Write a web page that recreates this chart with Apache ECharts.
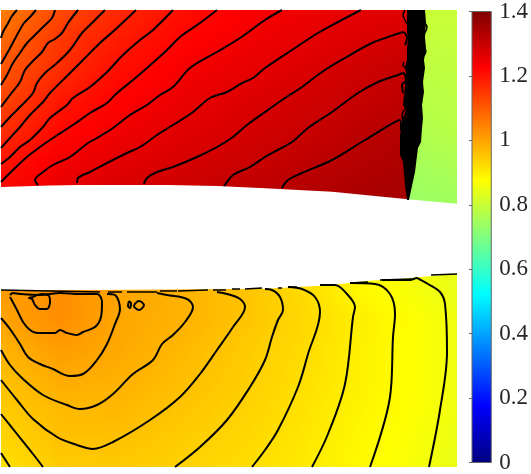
<!DOCTYPE html>
<html>
<head>
<meta charset="utf-8">
<style>html,body{margin:0;padding:0;background:#fff}#app{width:531px;height:474px}</style>
<script src="https://cdn.jsdelivr.net/npm/echarts@6/dist/echarts.min.js"></script>
</head>
<body>
<div id="app"></div>
<script>
// colour scale
var colorMin = 0;
var colorMax = 1.4;
var colorbarTicks = [0, 0.2, 0.4, 0.6, 0.8, 1, 1.2, 1.4];
var jetStops = ['#00007f', '#0000ff', '#007fff', '#00ffff', '#7fff7f', '#ffff00', '#ff7f00', '#ff0000', '#7f0000'];

// field: upper passage, before the shock
var upperX = [1, 60, 120, 180, 240, 300, 360, 420];
var upperY = [10, 40, 70, 100, 130, 160, 200];
var upperValues = [
    [1.05, 1.125, 1.17, 1.204, 1.228, 1.245, 1.26, 1.27],
    [1.08, 1.15, 1.19, 1.22, 1.241, 1.257, 1.274, 1.29],
    [1.105, 1.165, 1.208, 1.236, 1.253, 1.273, 1.292, 1.31],
    [1.13, 1.193, 1.225, 1.25, 1.271, 1.285, 1.303, 1.32],
    [1.16, 1.215, 1.243, 1.266, 1.28, 1.298, 1.316, 1.33],
    [1.195, 1.238, 1.262, 1.278, 1.294, 1.31, 1.325, 1.34],
    [1.235, 1.26, 1.285, 1.30, 1.315, 1.33, 1.342, 1.35]
];

// upper passage, after the shock
var shockedX = [409, 457];
var shockedY = [10, 70, 130, 205];
var shockedValues = [
    [0.80, 0.80],
    [0.785, 0.79],
    [0.765, 0.78],
    [0.735, 0.745]
];

// lower passage
var lowerX = [1, 60, 120, 180, 240, 300, 360, 420, 457];
var lowerY = [273, 290, 320, 350, 380, 410, 440, 467];
var lowerValues = [
    [1.01, 1.03, 1.00, 0.98, 0.96, 0.925, 0.885, 0.86, 0.845],
    [1.01, 1.03, 1.00, 0.98, 0.96, 0.925, 0.885, 0.86, 0.845],
    [1.00, 1.03, 0.995, 0.982, 0.958, 0.93, 0.897, 0.87, 0.855],
    [0.98, 1.01, 0.993, 0.972, 0.95, 0.925, 0.895, 0.87, 0.855],
    [0.96, 0.99, 0.982, 0.965, 0.945, 0.92, 0.895, 0.87, 0.855],
    [0.945, 0.97, 0.972, 0.955, 0.938, 0.915, 0.89, 0.87, 0.855],
    [0.93, 0.96, 0.96, 0.945, 0.93, 0.91, 0.885, 0.865, 0.85],
    [0.915, 0.945, 0.948, 0.938, 0.923, 0.905, 0.883, 0.862, 0.845]
];

// white gap between the two passages
var gapUpperEdge = [[1, 187], [50, 185.5], [80, 185], [167, 185], [217, 186], [265, 188.3], [332, 191.7], [408, 199.3], [457, 203.7]];
var gapLowerEdge = [[1, 290], [100, 290], [265, 288.7], [298, 287], [332, 285], [365, 281], [398, 279], [432, 276], [457, 273.7]];

// contours packed together at the shock
var shockBand = [
    [407, 10], [407, 15], [407, 22], [407, 32], [408, 38], [407, 48], [407, 60], [405, 67], [406, 75], [405, 85], [403, 105],
    [406, 110], [402, 120], [400, 135], [400, 155], [403, 162], [405, 185], [407, 200],
    [409, 200], [415, 172], [418, 148], [421, 142], [422, 128], [423, 118], [422, 105], [424, 92], [423, 82], [425, 68],
    [424, 60], [426, 48], [425, 38], [426, 22], [425, 10]
];
var shockWiggles = [
    [[405, 10], [403, 15], [405, 20], [407, 24]],
    [[404, 62], [403, 65], [406, 68]],
    [[406, 108], [402, 115], [404, 125]],
    [[424, 22], [427, 27], [425, 33]],
    [[423, 47], [426, 51], [424, 56]]
];

// contour lines
var upperContours = [
    [[17, 10], [12, 16], [7, 25], [3, 32], [1, 38]],
    [[36, 10], [30, 17], [24, 23], [17, 35], [9, 50], [1, 64]],
    [[55, 10], [52, 18], [43, 27], [35, 35], [27, 43], [20, 53], [13, 63], [7, 75], [1, 85]],
    [[78, 10], [68, 23], [62, 33], [55, 39], [48, 43], [42, 52], [32, 62], [25, 70], [20, 82], [10, 95], [1, 107]],
    [[105, 10], [93, 22], [82, 33], [70, 50], [57, 63], [45, 73], [37, 83], [33, 93], [20, 107], [10, 117], [1, 127]],
    [[136, 10], [117, 28], [100, 43], [83, 60], [68, 75], [50, 93], [43, 102], [30, 115], [20, 127], [10, 138], [1, 148]],
    [[173, 10], [153, 30], [140, 40], [123, 55], [107, 72], [90, 87], [73, 98], [67, 105], [50, 118], [43, 127], [30, 140], [20, 147], [10, 157], [1, 164]],
    [[217, 10], [200, 23], [180, 37], [167, 50], [147, 68], [133, 80], [117, 93], [107, 103], [90, 113], [73, 125], [53, 138], [40, 147], [27, 157], [13, 170], [1, 182]],
    [[282, 10], [265, 20], [240, 38], [217, 52], [190, 68], [173, 87], [160, 95], [147, 105], [130, 115], [113, 128], [97, 138], [88, 143], [70, 157], [53, 165], [43, 172], [35, 180], [38, 185]],
    [[361, 10], [338, 22], [318, 33], [295, 48], [265, 68], [253, 78], [242, 83], [227, 92], [210, 98], [193, 112], [173, 125], [157, 135], [140, 147], [127, 153], [107, 163], [90, 172], [78, 178], [77, 183]],
    [[405, 45], [407, 38], [403, 32], [400, 33], [372, 43], [345, 58], [322, 72], [302, 87], [285, 98], [265, 112], [247, 125], [233, 137], [217, 147], [197, 157], [173, 167], [157, 172], [147, 178], [144, 184]],
    [[403, 93], [402, 85], [406, 80], [403, 73], [398, 75], [378, 82], [358, 93], [332, 112], [308, 128], [292, 142], [272, 153], [265, 157], [250, 167], [233, 175], [227, 182], [224, 186]],
    [[401, 130], [400, 120], [365, 140], [332, 160], [302, 173], [288, 180], [282, 188]]
];
var lowerContours = [
    [[33, 297], [42, 294], [49, 296], [50, 302], [47, 309], [40, 309], [35, 305], [32, 299], [29, 298], [33, 297]],
    [[129, 301], [131, 303], [130, 308], [128, 306], [129, 301]],
    [[134, 305], [139, 301], [144, 305], [139, 310], [134, 306], [134, 305]],
    [[10, 295], [13, 293], [20, 294], [40, 295], [60, 293], [80, 294], [97, 294], [102, 302], [101, 317], [95, 327], [83, 332], [77, 335], [67, 333], [60, 330], [55, 333], [37, 333], [30, 330], [23, 322], [17, 310], [10, 297]],
    [[1, 318], [10, 329], [20, 344], [28, 357], [40, 364], [53, 369], [70, 376], [83, 374], [97, 360], [107, 344], [115, 324], [120, 309], [115, 295], [107, 294]],
    [[1, 350], [10, 365], [23, 379], [43, 395], [67, 405], [80, 409], [97, 405], [113, 394], [133, 374], [153, 360], [162, 344], [173, 335], [185, 322], [193, 307], [187, 299], [167, 295], [157, 293]],
    [[1, 380], [17, 400], [33, 419], [57, 437], [77, 445], [93, 449], [113, 442], [150, 420], [180, 397], [200, 374], [217, 350], [233, 327], [245, 307], [240, 299], [227, 294], [217, 292]],
    [[1, 414], [17, 434], [33, 454], [43, 467]],
    [[175, 467], [200, 447], [227, 420], [250, 387], [265, 360], [272, 337], [278, 320], [283, 310], [280, 297], [272, 290], [265, 289]],
    [[1, 453], [10, 467]],
    [[252, 467], [265, 450], [278, 430], [298, 387], [308, 354], [320, 312], [315, 297], [302, 289], [288, 287]],
    [[312, 467], [328, 434], [345, 384], [353, 317], [355, 307], [347, 294], [335, 285], [320, 285]],
    [[370, 467], [390, 397], [393, 337], [395, 314], [390, 294], [375, 284], [350, 283]],
    [[429, 467], [440, 410], [447, 352], [445, 304], [440, 292], [428, 284], [419, 279], [417, 278], [410, 280], [382, 280]]
];
// broken bits of contour lying along the lower wall
var wallDashes = [
    [[1, 290], [100, 292]], [[108, 292], [122, 292]], [[127, 292], [157, 292]], [[160, 291], [177, 291]],
    [[178, 291], [208, 290]], [[213, 290], [226, 290]], [[232, 289], [240, 289]], [[245, 289], [262, 288]],
    [[278, 288], [282, 288]], [[288, 287], [297, 287]], [[320, 285], [332, 285]], [[350, 283], [368, 282]],
    [[380, 280], [412, 279]], [[431, 275], [457, 274]]
];

function valueColor(v) {
    return echarts.color.lerp((v - colorMin) / (colorMax - colorMin), jetStops);
}

// one row per grid cell: x0, x1, y0, y1 and the four corner values
function fieldCells(xs, ys, values) {
    var cells = [];
    for (var j = 0; j < ys.length - 1; j++) {
        for (var i = 0; i < xs.length - 1; i++) {
            cells.push([xs[i], xs[i + 1], ys[j], ys[j + 1], values[j][i], values[j][i + 1], values[j + 1][i], values[j + 1][i + 1]]);
        }
    }
    return cells;
}

// a cell is shaded from its corners in narrow vertical strips, snapped to whole pixels
function renderCell(params, api) {
    var a = api.coord([api.value(0), api.value(2)]);
    var b = api.coord([api.value(1), api.value(3)]);
    var v00 = api.value(4), v10 = api.value(5), v01 = api.value(6), v11 = api.value(7);
    var n = Math.ceil((b[0] - a[0]) / 3);
    var w = (b[0] - a[0]) / n;
    var top = Math.round(a[1]), bottom = Math.round(b[1]);
    var children = [];
    for (var k = 0; k < n; k++) {
        var t = (k + 0.5) / n;
        var left = Math.round(a[0] + k * w), right = Math.round(a[0] + (k + 1) * w);
        children.push({
            type: 'rect',
            shape: {x: left, y: top, width: right - left, height: bottom - top},
            style: {
                fill: {
                    type: 'linear', x: 0, y: 0, x2: 0, y2: 1,
                    colorStops: [
                        {offset: 0, color: valueColor(v00 + (v10 - v00) * t)},
                        {offset: 1, color: valueColor(v01 + (v11 - v01) * t)}
                    ]
                }
            }
        });
    }
    return {type: 'group', children: children};
}

function fieldSeries(xs, ys, values, z) {
    return {
        type: 'custom', xAxisIndex: 0, yAxisIndex: 0, clip: true, silent: true, z: z,
        data: fieldCells(xs, ys, values),
        encode: {x: [0, 1], y: [2, 3]},
        renderItem: renderCell
    };
}

function polygonSeries(points, fill, z) {
    return {
        type: 'custom', xAxisIndex: 0, yAxisIndex: 0, clip: true, silent: true, z: z,
        data: [0],
        renderItem: function (params, api) {
            return {type: 'polygon', shape: {points: points.map(function (p) { return api.coord(p); })}, style: {fill: fill}};
        }
    };
}

function contourSeries(points, width, z) {
    return {
        type: 'line', xAxisIndex: 0, yAxisIndex: 0, data: points, showSymbol: false, symbol: 'none',
        silent: true, z: z, smooth: 0.35, lineStyle: {color: '#000', width: width}
    };
}

var series = [
    fieldSeries(upperX, upperY, upperValues, 1),
    fieldSeries(shockedX, shockedY, shockedValues, 2),
    fieldSeries(lowerX, lowerY, lowerValues, 1),
    polygonSeries(gapUpperEdge.concat(gapLowerEdge.slice().reverse()), '#fff', 3),
    polygonSeries(shockBand, '#000', 5)
];
upperContours.concat(lowerContours).forEach(function (c) {
    series.push(contourSeries(c, 2, 4));
});
shockWiggles.forEach(function (c) {
    series.push(contourSeries(c, 1.5, 5));
});
wallDashes.forEach(function (c) {
    series.push(contourSeries(c, 1.5, 4));
});
// colorbar
series.push({
    type: 'custom', xAxisIndex: 1, yAxisIndex: 1, silent: true,
    data: [[0, colorMax, 1, colorMin]],
    renderItem: function (params, api) {
        var a = api.coord([api.value(0), api.value(1)]);
        var b = api.coord([api.value(2), api.value(3)]);
        return {
            type: 'rect',
            shape: {x: a[0], y: a[1], width: b[0] - a[0], height: b[1] - a[1]},
            style: {
                fill: new echarts.graphic.LinearGradient(0, 1, 0, 0, jetStops.map(function (c, i) {
                    return {offset: i / (jetStops.length - 1), color: c};
                }))
            }
        };
    }
});

var chart = echarts.init(document.getElementById('app'), null, {renderer: 'canvas'});
chart.setOption({
    animation: false,
    backgroundColor: '#fff',
    grid: [
        {left: 1, top: 10, width: 456, height: 457},
        {left: 472, top: 10, width: 22, height: 457, show: true, borderColor: '#666', borderWidth: 1, backgroundColor: 'transparent', z: 3}
    ],
    xAxis: [
        {type: 'value', gridIndex: 0, min: 1, max: 457, show: false},
        {type: 'value', gridIndex: 1, min: 0, max: 1, show: false}
    ],
    yAxis: [
        {type: 'value', gridIndex: 0, min: 10, max: 467, inverse: true, show: false},
        {
            type: 'value', gridIndex: 1, min: colorMin, max: colorMax, position: 'right',
            splitLine: {show: false},
            axisLine: {show: true, lineStyle: {color: '#666', width: 1}},
            axisTick: {show: true, inside: true, length: 3, lineStyle: {color: '#666'}, customValues: colorbarTicks},
            axisLabel: {
                show: true, margin: 8, color: '#262626', fontFamily: 'Liberation Serif', fontSize: 23,
                customValues: colorbarTicks,
                formatter: function (v) { return String(v); }
            }
        }
    ],
    series: series
});
</script>
</body>
</html>
